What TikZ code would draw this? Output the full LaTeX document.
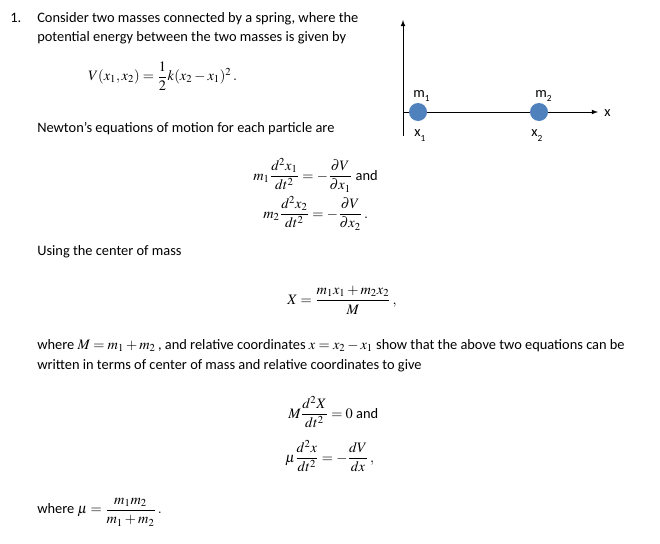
\documentclass[tikz,border=0pt]{standalone}
\usepackage{amsmath}
\usepackage{mathptmx}
\usepackage{fontspec}
\setmainfont{Carlito}
\begin{document}
\begin{tikzpicture}[x=0.75pt,y=-0.75pt,font=\fontsize{10.8}{13}\selectfont]
\tikzset{txt/.style={anchor=base west,inner sep=0},eq/.style={anchor=west,inner sep=0},
 ax/.style={-latex,line width=0.6pt}}
\definecolor{massblue}{HTML}{4F81BD}
\useasboundingbox (0,0) rectangle (660,543);
\node[txt] (n1) at (10,22) {1.};
\node[txt] (l1) at (37,22) {Consider two masses connected by a spring, where the};
\node[txt] (l2) at (37,41) {potential energy between the two masses is given by};
\node[eq] (V) at (88,76) {$V(x_1,x_2)=\dfrac{1}{2}k(x_2-x_1)^2\,.$};
\node[txt] (l3) at (37,132) {Newton’s equations of motion for each particle are};
% figure
\coordinate (O) at (403,112);
\coordinate (Ob) at (403,136);
\coordinate (Yt) at (403,20);
\coordinate (Xr) at (598,112);
\draw[ax] (Ob) -- (Yt);
\draw[ax] (O) -- (Xr);
\node[txt] (xl) at (604,116) {x};
\node[circle,fill=massblue,minimum size=13.5pt,inner sep=0] (m1) at (418,112) {};
\node[circle,fill=massblue,minimum size=13.5pt,inner sep=0] (m2) at (539,112) {};
\node[txt] (m1l) at (413,97) {m\raisebox{-0.6ex}{\scriptsize 1}};
\node[txt] (m2l) at (535,97) {m\raisebox{-0.6ex}{\scriptsize 2}};
\node[txt] (x1l) at (414,136) {x\raisebox{-0.8ex}{\scriptsize 1}};
\node[txt] (x2l) at (531,136) {x\raisebox{-0.8ex}{\scriptsize 2}};
% equations
\node[eq] (e1) at (253,175) {$m_1\dfrac{d^2x_1}{dt^2}=-\dfrac{\partial V}{\partial x_1}$ and};
\node[eq] (e2) at (263,213) {$m_2\dfrac{d^2x_2}{dt^2}=-\dfrac{\partial V}{\partial x_2}\,.$};
\node[txt] (l4) at (37,255) {Using the center of mass};
\node[eq] (cm) at (287,300) {$X=\dfrac{m_1x_1+m_2x_2}{M}\,,$};
\node[txt] (l5) at (37,349) {where $M=m_1+m_2$\,, and relative coordinates $x=x_2-x_1$ show that the above two equations can be};
\node[txt] (l6) at (37,369) {written in terms of center of mass and relative coordinates to give};
\node[eq] (e3) at (288,412) {$M\dfrac{d^2X}{dt^2}=0$ and};
\node[eq] (e4) at (285,456) {$\mu\dfrac{d^2x}{dt^2}=-\dfrac{dV}{dx}\,,$};
\node[eq] (mu) at (37,512) {where $\mu=\dfrac{m_1m_2}{m_1+m_2}\,.$};
\end{tikzpicture}
\end{document}
